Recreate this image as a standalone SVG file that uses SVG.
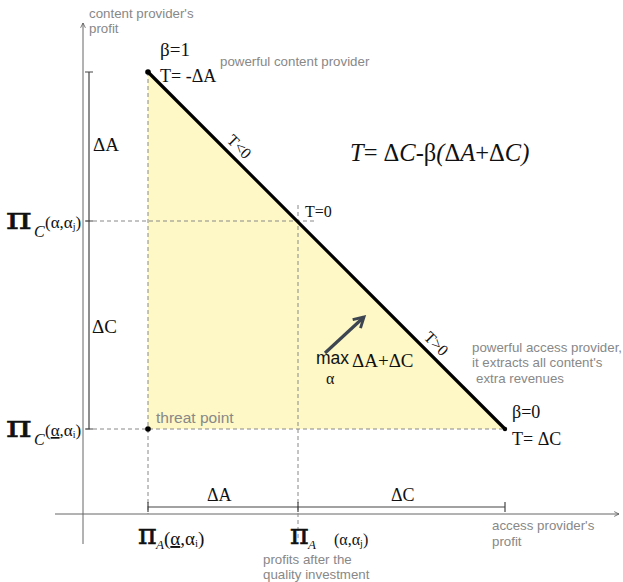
<svg xmlns="http://www.w3.org/2000/svg" width="623" height="582" viewBox="0 0 623 582">
<defs>
<style>
.ax{stroke:#666;stroke-width:1;fill:none}
.br{stroke:#444;stroke-width:1.2;fill:none}
.dash{stroke:#888;stroke-width:1;stroke-dasharray:4,3;fill:none}
.note{font-family:"Liberation Sans",Arial,sans-serif;font-size:13.3px;fill:#888}
.ser{font-family:"Liberation Serif","Times New Roman",serif;fill:#111}
.it{font-style:italic}
.pi{font-family:"DejaVu Serif","Liberation Serif",serif;fill:#111;stroke:#111;stroke-width:0.6}
</style>
<marker id="ah" viewBox="0 0 10 10" refX="9" refY="5" markerWidth="6" markerHeight="6" orient="auto"><path d="M1,1 L9,5 L1,9" fill="none" stroke="#555" stroke-width="1.3"/></marker>
<marker id="bigah" viewBox="0 0 10 10" refX="8" refY="5" markerWidth="4.5" markerHeight="4.5" orient="auto"><path d="M1,1 L8,5 L1,9" fill="none" stroke="#3d4550" stroke-width="2"/></marker>
</defs>
<rect width="623" height="582" fill="#fff"/>
<g id="region">
<polygon points="148,72 148,429 505,429" fill="#fdf8c6"/>
</g>
<g id="connectors">
<line class="ax" x1="83" y1="544" x2="83" y2="23" marker-end="url(#ah)"/>
<line class="ax" x1="55" y1="514" x2="619" y2="514" marker-end="url(#ah)"/>
<line class="dash" x1="148" y1="72" x2="148" y2="514"/>
<line class="dash" x1="86" y1="429" x2="505" y2="429"/>
<line class="dash" x1="86" y1="221" x2="316" y2="221"/>
<line class="dash" x1="298" y1="205" x2="298" y2="540"/>
<path class="br" d="M89,72 V429 M85,72 H93 M85,221 H93 M85,429 H93"/>
<path class="br" d="M148,507 H505 M148,502 V512 M298,502 V512 M505,502 V512"/>
<line x1="148" y1="72" x2="505" y2="429" stroke="#000" stroke-width="3.2"/>
<line x1="325" y1="353" x2="364" y2="317" stroke="#3d4550" stroke-width="3.2" marker-end="url(#bigah)"/>
<circle cx="148" cy="72" r="2.8" fill="#000"/>
<circle cx="148" cy="429" r="2.8" fill="#000"/>
<circle cx="505" cy="429" r="2.2" fill="#000"/>
</g>
<g id="axis-labels">
<text class="note" x="89" y="18">content provider's</text>
<text class="note" x="89" y="33">profit</text>
<text class="note" x="492" y="530">access provider's</text>
<text class="note" x="492" y="546">profit</text>
<text class="note" x="263" y="564">profits after the</text>
<text class="note" x="263" y="579">quality investment</text>
</g>
<g id="pi-c-top">
<text class="pi" font-size="30" transform="translate(6,229) scale(1.3,1)">π</text>
<text class="ser it" x="34" y="237" font-size="16">C</text>
<text class="ser" x="45" y="228" font-size="17">(α,α<tspan font-size="10" dy="2">j</tspan><tspan dy="-2">)</tspan></text>
</g>
<g id="pi-c-bottom">
<text class="pi" font-size="30" transform="translate(6,437) scale(1.3,1)">π</text>
<text class="ser it" x="34" y="445" font-size="16">C</text>
<text class="ser" x="45" y="436" font-size="17">(<tspan text-decoration="underline">α</tspan>,α<tspan font-size="10" dy="2">i</tspan><tspan dy="-2">)</tspan></text>
</g>
<g id="pi-a-left">
<text class="pi" font-size="27" transform="translate(138,544) scale(1.05,1)">π</text>
<text class="ser it" x="156" y="549" font-size="13">A</text>
<text class="ser" x="164" y="545" font-size="19">(<tspan text-decoration="underline">α</tspan>,α<tspan font-size="11" dy="2">i</tspan><tspan dy="-2">)</tspan></text>
</g>
<g id="pi-a-right">
<text class="pi" font-size="27" transform="translate(290,544) scale(1.05,1)">π</text>
<text class="ser it" x="308" y="549" font-size="13">A</text>
<text class="ser" x="334" y="545" font-size="16">(α,α<tspan font-size="10" dy="2">j</tspan><tspan dy="-2">)</tspan></text>
</g>
<g id="deltas">
<text class="ser" x="93" y="151" font-size="19">ΔA</text>
<text class="ser" x="92" y="333" font-size="19">ΔC</text>
<text class="ser" x="207" y="501" font-size="18">ΔA</text>
<text class="ser" x="391" y="501" font-size="18">ΔC</text>
</g>
<g id="top-vertex">
<text class="ser" x="160" y="56" font-size="19">β=1</text>
<text class="ser" x="160" y="82" font-size="18">T= -ΔA</text>
<text class="note" x="220" y="66">powerful content provider</text>
</g>
<g id="formula">
<text class="ser" x="350" y="161" font-size="24.5"><tspan class="it">T</tspan>= Δ<tspan class="it">C</tspan>-β<tspan class="it">(</tspan>Δ<tspan class="it">A</tspan>+Δ<tspan class="it">C)</tspan></text>
</g>
<g id="t-labels">
<text class="ser" x="305" y="217" font-size="16">T=0</text>
<text class="ser" font-size="16" transform="translate(226,141) rotate(45)">T&lt;0</text>
<text class="ser" font-size="16" transform="translate(423,338) rotate(45)">T&gt;0</text>
</g>
<g id="max-label">
<text x="316" y="364" font-family="Liberation Sans,Arial,sans-serif" font-size="17.5" fill="#111">max</text>
<text class="ser" x="326" y="384" font-size="16">α</text>
<text class="ser" x="352" y="367" font-size="19">ΔA+ΔC</text>
</g>
<g id="bottom-vertex">
<text class="note" x="472" y="352">powerful access provider,</text>
<text class="note" x="472" y="367">it extracts all content's</text>
<text class="note" x="476" y="383">extra revenues</text>
<text class="ser" x="512" y="418" font-size="18">β=0</text>
<text class="ser" x="512" y="445" font-size="18">T= ΔC</text>
</g>
<g id="threat">
<text x="156" y="423" font-family="Liberation Sans,Arial,sans-serif" font-size="15.5" fill="#888">threat point</text>
</g>
</svg>
